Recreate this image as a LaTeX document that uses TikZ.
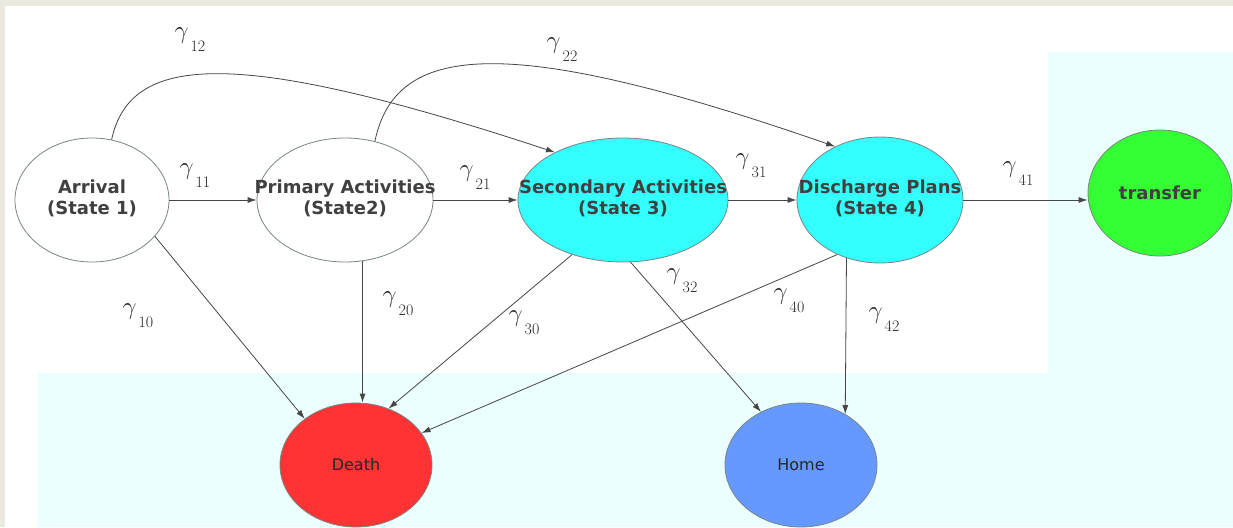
\documentclass[tikz,border=0pt]{standalone}
\usepackage{amsmath}
\usepackage{fontspec}
\usetikzlibrary{arrows.meta,shapes.geometric,calc}
\newfontfamily\statefont{DejaVu Sans}
\definecolor{beige}{RGB}{236,233,225}
\definecolor{paleblue}{RGB}{236,255,255}
\definecolor{stcyan}{RGB}{51,255,255}
\definecolor{stgreen}{RGB}{51,255,51}
\definecolor{stred}{RGB}{255,51,51}
\definecolor{stblue}{RGB}{102,153,255}
\definecolor{edgegray}{RGB}{70,70,70}
\definecolor{rimgray}{RGB}{120,132,132}
\newcommand{\sttext}[2]{\makebox[0pt]{\begin{tabular}{@{}c@{}}#1\\#2\end{tabular}}}
\newcommand{\gam}[1]{$\gamma$\hspace{2pt}\raisebox{-13pt}{\fontsize{16}{16}\selectfont #1}}

\begin{document}
\begin{tikzpicture}[join=round, x=1pt, y=-1pt]
	\tikzstyle{st}=[draw=rimgray, line width=0.8pt, ellipse, inner sep=2pt, font=\statefont\bfseries\fontsize{18}{21}\selectfont, text=black!75]
	\tikzstyle{tr}=[draw=edgegray, line width=0.8pt, -{Latex[length=9pt,width=6pt]}]
	\tikzstyle{rate}=[font=\fontsize{28}{28}\selectfont, inner sep=0pt, text=black!85]

	\useasboundingbox (0,0) rectangle (1233,527);
	\fill[beige] (0,0) rectangle (1233,527);
	\fill[white] (5,6) rectangle (1233,527);
	\fill[paleblue] (1048,52) rectangle (1233,373);
	\fill[paleblue] (38,373) rectangle (1233,527);

	% states
	\node[st, fill=white, minimum width=154pt, minimum height=124pt] (arr) at (92,200) {\sttext{Arrival}{(State 1)}};
	\node[st, fill=white, minimum width=176pt, minimum height=124pt] (pri) at (345,200) {\sttext{Primary Activities}{(State2)}};
	\node[st, fill=stcyan, minimum width=210pt, minimum height=124pt] (sec) at (623,200) {\sttext{Secondary Activities}{(State 3)}};
	\node[st, fill=stcyan, minimum width=166pt, minimum height=126pt] (dis) at (880,200) {\sttext{Discharge Plans}{(State 4)}};
	\node[st, fill=stgreen, minimum width=144pt, minimum height=126pt] (tra) at (1160,193) {transfer};
	\node[st, fill=stred, minimum width=152pt, minimum height=124pt, font=\statefont\fontsize{16}{18}\selectfont, text=black!85] (dea) at (356,465) {Death};
	\node[st, fill=stblue, minimum width=152pt, minimum height=124pt, font=\statefont\fontsize{16}{18}\selectfont, text=black!85] (hom) at (801,465) {Home};

	% transitions
	\draw[tr] (arr.east) -- (pri.west);
	\draw[tr] (pri.east) -- (sec.west);
	\draw[tr] (sec.east) -- (dis.west);
	\draw[tr] (dis.east) -- (dis.east -| tra.west);
	\draw[tr] (arr.72) .. controls (130,55) and (230,45) .. (sec.145);
	\draw[tr] (pri.63) .. controls (395,45) and (500,30) .. (dis.130);
	\draw[tr] (arr.-30) -- (dea.138);
	\draw[tr] (pri.-74) -- (pri.-74 |- dea.north);
	\draw[tr] (sec.-133) -- (dea.60);
	\draw[tr] (sec.-83) -- (hom.127);
	\draw[tr] (dis.-128) -- (dea.26);
	\draw[tr] (dis.-120) -- (hom.49);

	% rates
	\node[rate] (g12) at (190,40) {\gam{12}};
	\node[rate] (g22) at (562,50) {\gam{22}};
	\node[rate] (g11) at (195,176) {\gam{11}};
	\node[rate] (g21) at (475,178) {\gam{21}};
	\node[rate] (g31) at (751,166) {\gam{31}};
	\node[rate] (g41) at (1018,174) {\gam{41}};
	\node[rate] (g10) at (138,316) {\gam{10}};
	\node[rate] (g20) at (398,304) {\gam{20}};
	\node[rate] (g30) at (524,323) {\gam{30}};
	\node[rate] (g32) at (682,281) {\gam{32}};
	\node[rate] (g40) at (789,301) {\gam{40}};
	\node[rate] (g42) at (884,320) {\gam{42}};
\end{tikzpicture}
\end{document}
